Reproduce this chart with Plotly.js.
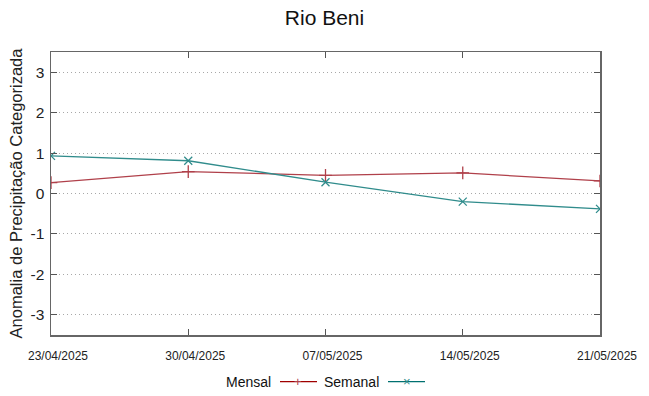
<!DOCTYPE html>
<html>
<head>
<meta charset="utf-8">
<script src="https://cdn.plot.ly/plotly-3.0.1.min.js"></script>
<style>html,body{margin:0;padding:0;background:#fff;}#chart{width:649px;height:396px;}</style>
</head>
<body>
<div id="chart"></div>
<script>
const dates = ['2025-04-23', '2025-04-30', '2025-05-07', '2025-05-14', '2025-05-21'];
const dateLabels = ['23/04/2025', '30/04/2025', '07/05/2025', '14/05/2025', '21/05/2025'];
const mensal = [0.27, 0.54, 0.45, 0.51, 0.31];
const semanal = [0.93, 0.81, 0.28, -0.20, -0.38];
const yTicks = [-3, -2, -1, 0, 1, 2, 3];
const yTickLabels = ['-3', '-2', '-1', '0', '1', '2', '3'];
const seriesNames = ['Mensal', 'Semanal'];

const redC = '#b0404a';
const tealC = '#308c8c';
const font = 'Liberation Sans, Arial, sans-serif';

const traces = [
  {x: dates, y: mensal, name: seriesNames[0], type: 'scatter', mode: 'lines+markers',
   line: {color: redC, width: 1.3}, marker: {symbol: 'cross-thin', size: 9, line: {color: redC, width: 1.3}}},
  {x: dates, y: semanal, name: seriesNames[1], type: 'scatter', mode: 'lines+markers',
   line: {color: tealC, width: 1.3}, marker: {symbol: 'x-thin', size: 8, line: {color: tealC, width: 1.3}}}
];

const legY = -0.165;
const layout = {
  width: 649, height: 396,
  margin: {l: 51, r: 49, t: 52, b: 61},
  paper_bgcolor: '#fff', plot_bgcolor: '#fff',
  showlegend: false,
  font: {family: font, color: '#222'},
  title: {text: 'Rio Beni', font: {size: 21, family: font, color: '#111'}, x: 0.5, xanchor: 'center', y: 0.955, yanchor: 'middle'},
  xaxis: {
    type: 'date', range: [dates[0], dates[dates.length - 1]],
    tickvals: dates, ticktext: dateLabels,
    tickfont: {size: 12, family: font, color: '#222'},
    ticks: 'inside', ticklen: 6, tickcolor: '#555', tickwidth: 1,
    ticklabelstandoff: 9, ticklabelshift: 7,
    showline: true, linecolor: '#666', linewidth: 1.5, mirror: 'ticks',
    showgrid: false, zeroline: false
  },
  yaxis: {
    range: [-3.5, 3.5], tickvals: yTicks, ticktext: yTickLabels,
    tickfont: {size: 15.5, family: font, color: '#222'},
    ticks: 'inside', ticklen: 6, tickcolor: '#555', tickwidth: 1,
    ticklabelstandoff: 2,
    showline: true, linecolor: '#666', linewidth: 1.5, mirror: 'ticks',
    showgrid: true, gridcolor: '#a8a8a8', griddash: '1px,3px', gridwidth: 1,
    zeroline: false,
    title: {text: 'Anomalia de Precipitação Categorizada', font: {size: 16.5, family: font, color: '#222'}, standoff: 4}
  },
  annotations: [
    {xref: 'paper', yref: 'paper', x: (273 - 51) / 549, y: legY, xanchor: 'right', yanchor: 'middle', text: seriesNames[0], showarrow: false, font: {size: 14, family: font, color: '#111'}},
    {xref: 'paper', yref: 'paper', x: (381 - 51) / 549, y: legY, xanchor: 'right', yanchor: 'middle', text: seriesNames[1], showarrow: false, font: {size: 14, family: font, color: '#111'}},
    {xref: 'paper', yref: 'paper', x: (298 - 51) / 549, y: legY, xanchor: 'center', yanchor: 'middle', text: '+', showarrow: false, font: {size: 13, family: font, color: redC}},
    {xref: 'paper', yref: 'paper', x: (407 - 51) / 549, y: legY, xanchor: 'center', yanchor: 'middle', text: '×', showarrow: false, font: {size: 13, family: font, color: tealC}}
  ],
  shapes: [
    {type: 'line', xref: 'paper', yref: 'paper', x0: (280 - 51) / 549, x1: (317 - 51) / 549, y0: legY, y1: legY, line: {color: '#a00000', width: 1.3}},
    {type: 'line', xref: 'paper', yref: 'paper', x0: (388 - 51) / 549, x1: (425 - 51) / 549, y0: legY, y1: legY, line: {color: '#007070', width: 1.3}}
  ]
};

Plotly.newPlot('chart', traces, layout, {staticPlot: true, displayModeBar: false});
</script>
</body>
</html>
